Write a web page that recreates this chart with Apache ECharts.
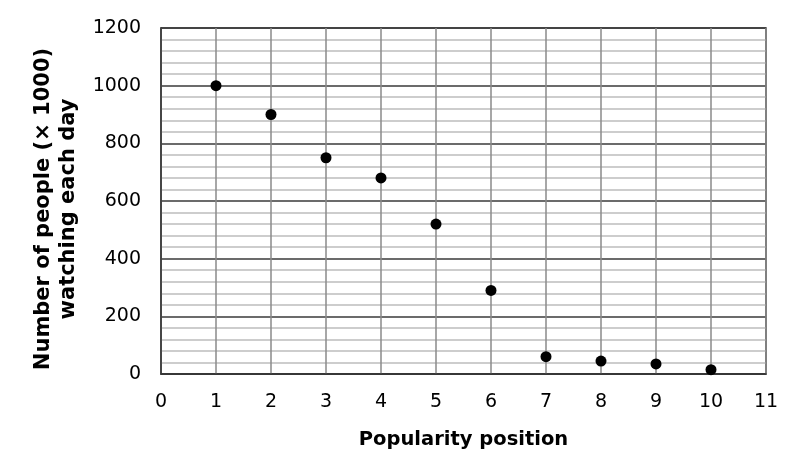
<!DOCTYPE html>
<html>
<head>
<meta charset="utf-8">
<script src="https://cdn.jsdelivr.net/npm/echarts@6/dist/echarts.min.js"></script>
<style>
  html, body { margin: 0; padding: 0; background: #fff; }
  #chart { width: 795px; height: 451px; }
</style>
</head>
<body>
<div id="chart"></div>
<script>
// popularity position vs viewers (x 1000)
const positions = [1, 2, 3, 4, 5, 6, 7, 8, 9, 10];
const viewers = [1000, 900, 750, 680, 520, 290, 60, 45, 35, 15];

const xTitle = 'Popularity position';
const yTitle = 'Number of people (× 1000)\nwatching each day';

const font = 'DejaVu Sans, Verdana, sans-serif';

const chart = echarts.init(document.getElementById('chart'));

const option = {
  backgroundColor: '#fff',
  animation: false,
  grid: {
    left: 161,
    right: 29,
    top: 28,
    bottom: 77,
    outerBoundsMode: 'none',
    containLabel: false,
    show: true,
    borderColor: '#333',
    borderWidth: 1.5,
  },
  xAxis: {
    type: 'value',
    min: 0,
    max: 11,
    interval: 1,
    name: xTitle,
    nameLocation: 'middle',
    nameGap: 56,
    nameTextStyle: { fontFamily: font, fontSize: 19.5, fontWeight: 'bold', color: '#000' },
    axisLine: { show: true, lineStyle: { color: '#333', width: 1.5 } },
    axisTick: { show: false },
    axisLabel: { fontFamily: font, fontSize: 19, color: '#000', margin: 19 },
    splitLine: { show: true, lineStyle: { color: '#8a8a8a', width: 1.5 } },
  },
  yAxis: {
    type: 'value',
    min: 0,
    max: 1200,
    interval: 200,
    name: yTitle,
    nameLocation: 'middle',
    nameRotate: 90,
    nameGap: 80,
    nameTextStyle: {
      fontFamily: font, fontSize: 21, fontWeight: 'bold', color: '#000', lineHeight: 25,
      padding: [0, 16, 0, 0],
    },
    axisLine: { show: true, lineStyle: { color: '#333', width: 1.5 } },
    axisTick: { show: false },
    axisLabel: {
      fontFamily: font, fontSize: 19, color: '#000', margin: 20,
      formatter: function (v) { return String(v); },
    },
    splitLine: { show: true, lineStyle: { color: '#3a3a3a', width: 1.5 } },
    minorTick: { show: false, splitNumber: 5 },
    minorSplitLine: { show: true, lineStyle: { color: '#bdbdbd', width: 1.5 } },
  },
  series: [
    {
      type: 'scatter',
      symbol: 'circle',
      symbolSize: 11,
      itemStyle: { color: '#000', opacity: 1 },
      data: positions.map(function (p, i) { return [p, viewers[i]]; }),
    },
  ],
};

chart.setOption(option);
</script>
</body>
</html>
